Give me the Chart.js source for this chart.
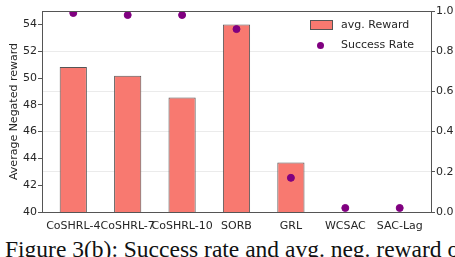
<!DOCTYPE html>
<html>
<head>
<meta charset="utf-8">
<script src="https://cdn.jsdelivr.net/npm/chart.js@4/dist/chart.umd.min.js"></script>
<style>
  html, body { margin: 0; padding: 0; background: #fff; overflow: hidden; width: 455px; height: 257px; }
  #wrap { position: relative; width: 455px; height: 257px; overflow: hidden; }
  #chart { position: absolute; left: 0; top: 0; }
  #legend { position: absolute; left: 310px; top: 15px; font: 11px "DejaVu Sans"; color: #262626; }
  #legend div { height: 20px; line-height: 20px; white-space: nowrap; position: relative; padding-left: 31px; }
  #legend .box { position: absolute; left: 0; top: 5px; width: 21px; height: 8px; border: 1px solid #555; }
  #legend .dot { position: absolute; left: 7px; top: 7px; width: 7px; height: 7px; border-radius: 50%; }
  #caption { position: absolute; left: 5px; top: 238px; font: 23.5px/1 "Liberation Serif"; color: #111; white-space: nowrap; }
</style>
</head>
<body>
<div id="wrap">
  <canvas id="chart" width="480" height="236"></canvas>
  <div id="legend"></div>
  <div id="caption">Figure 3(b): Success rate and avg. neg. reward of</div>
</div>
<script>
const methods = ["CoSHRL-4", "CoSHRL-7", "CoSHRL-10", "SORB", "GRL", "WCSAC", "SAC-Lag"];
const avgReward = [50.83, 50.16, 48.55, 54.0, 43.7, null, null];
const successRate = [0.99, 0.98, 0.98, 0.91, 0.17, 0.02, 0.02];

const barColor = "#f87970";
const dotColor = "#800080";

Chart.defaults.font.family = "DejaVu Sans";
Chart.defaults.font.size = 11;
Chart.defaults.color = "#262626";

const frame = {
  id: "frame",
  afterDatasetsDraw(chart) {
    const a = chart.chartArea;
    const ctx = chart.ctx;
    ctx.save();
    ctx.strokeStyle = "#555";
    ctx.lineWidth = 1;
    ctx.strokeRect(Math.round(a.left) + 0.5, Math.round(a.top) + 0.5,
      Math.round(a.right - a.left), Math.round(a.bottom - a.top));
    ctx.restore();
  }
};

const chart = new Chart(document.getElementById("chart"), {
  type: "bar",
  data: {
    datasets: [
      {
        type: "scatter",
        label: "Success Rate",
        data: methods.map((m, i) => ({ x: i, y: successRate[i] })),
        yAxisID: "y1",
        backgroundColor: dotColor,
        borderColor: dotColor,
        pointRadius: 3.5,
        pointHoverRadius: 3.5
      },
      {
        label: "avg. Reward",
        data: methods.map((m, i) => ({ x: i, y: avgReward[i] })),
        yAxisID: "y",
        backgroundColor: barColor,
        borderColor: "#555",
        borderWidth: 1,
        barPercentage: 0.5,
        categoryPercentage: 1
      }
    ]
  },
  options: {
    responsive: false,
    animation: false,
    layout: { padding: { top: 11, left: 0, right: 0, bottom: 0 } },
    plugins: { legend: { display: false }, tooltip: { enabled: false } },
    scales: {
      x: {
        type: "linear",
        offset: false,
        min: -0.575,
        max: 6.575,
        afterBuildTicks: s => { s.ticks = methods.map((m, i) => ({ value: i })); },
        afterFit: s => { s.height = 24; },
        grid: { display: false, offset: false },
        border: { display: false },
        ticks: {
          autoSkip: false,
          maxRotation: 0,
          padding: 0,
          callback: v => methods[v]
        }
      },
      y: {
        position: "left",
        min: 40,
        max: 55,
        afterBuildTicks: s => { s.ticks = [40, 42, 44, 46, 48, 50, 52, 54].map(v => ({ value: v })); },
        afterFit: s => { s.width = 42; },
        grid: { drawOnChartArea: false, tickLength: 4, tickColor: "#555" },
        border: { display: false },
        ticks: { padding: 1 },
        title: { display: true, text: "Average Negated reward", padding: { top: 8, bottom: 0 } }
      },
      y1: {
        position: "right",
        min: 0,
        max: 1,
        afterFit: s => { s.width = 49; },
        grid: { color: "#ebebeb", tickLength: 4, tickColor: "#555" },
        border: { display: false },
        ticks: { stepSize: 0.2, padding: 1, callback: v => v.toFixed(1) }
      }
    }
  },
  plugins: [frame]
});

// legend built from the datasets
const legend = document.getElementById("legend");
[chart.data.datasets[1], chart.data.datasets[0]].forEach(ds => {
  const row = document.createElement("div");
  const mark = document.createElement("span");
  mark.className = ds.type === "scatter" ? "dot" : "box";
  mark.style.background = ds.backgroundColor;
  row.appendChild(mark);
  row.appendChild(document.createTextNode(ds.label));
  legend.appendChild(row);
});
</script>
</body>
</html>
